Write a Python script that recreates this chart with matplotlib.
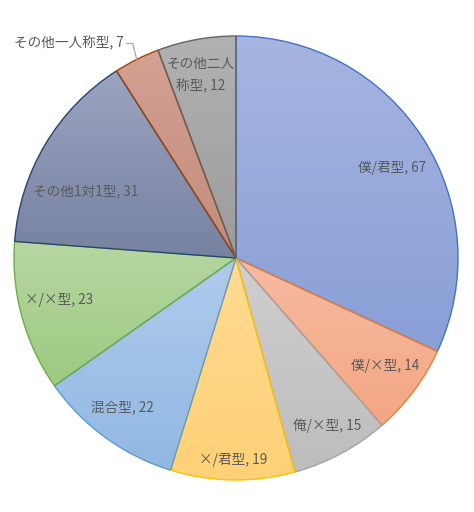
import numpy as np
import matplotlib
matplotlib.use("Agg")
import matplotlib.pyplot as plt
from matplotlib.colors import LinearSegmentedColormap

plt.rcParams['font.family'] = ['Noto Sans CJK JP', 'DejaVu Sans']

# データ
labels = ['僕/君型', '僕/×型', '俺/×型', '×/君型', '混合型', '×/×型',
          'その他1対1型', 'その他一人称型', 'その他二人称型']
values = [67, 14, 15, 19, 22, 23, 31, 7, 12]

# 色 (上, 下, 枠線)
top_colors = ['#A6B5E1', '#F7BBA2', '#CFCFCF', '#FFDB92', '#AFCBEC',
              '#B6D7A1', '#9BA4C0', '#D3A092', '#B1B1B1']
bottom_colors = ['#899FD6', '#F3A683', '#BDBDBD', '#FFD177', '#91B8E3',
                 '#9DC981', '#7782A1', '#C48C7D', '#9C9C9C']
edge_colors = ['#4472C4', '#ED7D31', '#A5A5A5', '#FFC000', '#5B9BD5',
               '#70AD47', '#264478', '#9E480E', '#636363']

# ラベル位置 (半径の割合, 角度のずれ)
label_r = [0.81, 0.83, 0.86, 0.91, 0.85, 0.82, 0.74, None, 0.84]
label_da = [-2.6, 1.0, 0.3, 0.0, -1.0, -2.1, 6.9, 0.0, 0.7]

fig = plt.figure(figsize=(4.74, 5.12), dpi=100)
ax = fig.add_axes([14 / 474, 32 / 512, 444 / 474, 444 / 512])

wedges, _ = ax.pie(values, startangle=90, counterclock=False, radius=1,
                   wedgeprops=dict(linewidth=1.0))
for w, c1, c2, ec in zip(wedges, top_colors, bottom_colors, edge_colors):
    w.set_facecolor('none')
    w.set_edgecolor(ec)
    w.set_zorder(3)
    # グラデーション
    bb = w.get_path().get_extents(w.get_patch_transform())
    cmap = LinearSegmentedColormap.from_list('g', [c2, c1])
    grad = np.linspace(0, 1, 100).reshape(-1, 1)
    im = ax.imshow(grad, cmap=cmap, origin='lower', aspect='auto',
                   extent=[bb.x0, bb.x1, bb.y0, bb.y1], zorder=2,
                   interpolation='bilinear')
    im.set_clip_path(w)

ax.set_xlim(-1.0, 1.0)
ax.set_ylim(-1.0, 1.0)
ax.set_aspect('equal')
ax.axis('off')

txt_color = '#595959'
fs = 9.8
for w, lab, v, r, da in zip(wedges, labels, values, label_r, label_da):
    mid = np.deg2rad((w.theta1 + w.theta2) / 2 + da)
    if lab == 'その他一人称型':
        ex, ey = np.cos(mid), np.sin(mid)
        ax.plot([ex, ex - 0.018, ex - 0.045], [ey, ey + 0.072, ey + 0.072],
                color='#A6A6A6', lw=0.9, zorder=5, clip_on=False)
        ax.text(ex - 0.06, ey + 0.075, f'{lab}, {v}', ha='right', va='center',
                fontsize=fs, color=txt_color, zorder=5)
        continue
    x, y = r * np.cos(mid), r * np.sin(mid)
    if lab == 'その他二人称型':
        s = f'その他二人\n称型, {v}'
        ax.text(x, y, s, ha='center', va='center', fontsize=fs,
                color=txt_color, linespacing=1.7, zorder=5)
    else:
        ax.text(x, y, f'{lab}, {v}', ha='center', va='center', fontsize=fs,
                color=txt_color, zorder=5)

fig.savefig('out.png', dpi=100, facecolor='white')
